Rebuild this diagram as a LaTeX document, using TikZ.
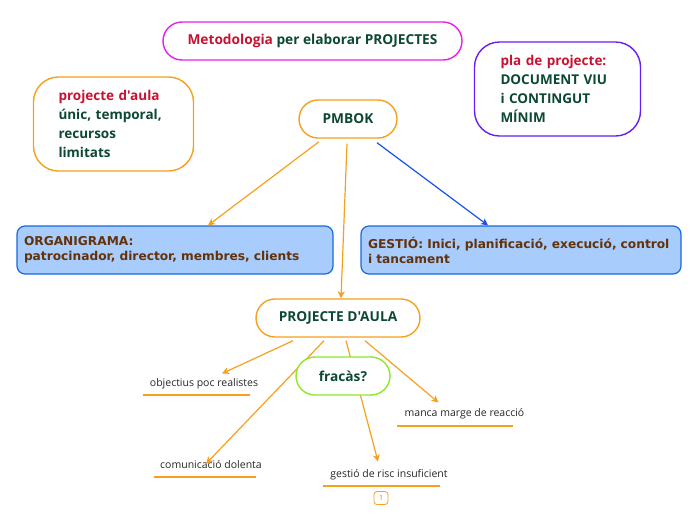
\documentclass[tikz,border=0pt]{standalone}
\usepackage{fontspec}
\setmainfont{Open Sans}[Ligatures=TeXOff]
\newfontfamily\dejabold{DejaVu Sans}[Ligatures=TeXOff]
\usetikzlibrary{arrows.meta}
\definecolor{corange}{RGB}{247,160,30}
\definecolor{cmagenta}{RGB}{232,30,232}
\definecolor{cpurple}{RGB}{104,30,240}
\definecolor{cgreen}{RGB}{140,232,40}
\definecolor{cblueb}{RGB}{24,104,222}
\definecolor{cbluef}{RGB}{168,204,252}
\definecolor{cbluea}{RGB}{24,80,240}
\definecolor{ccrimson}{RGB}{200,18,50}
\definecolor{cdkgreen}{RGB}{12,72,52}
\definecolor{cbrown}{RGB}{100,50,10}
\tikzset{
  pill/.style={draw=#1, line width=1.4pt, rounded corners=19pt, minimum height=38pt, fill=white,
    font=\fontsize{13.7}{15}\selectfont\bfseries, text=cdkgreen, inner xsep=0pt},
  bigbox/.style={draw=#1, line width=1.4pt, rounded corners=25pt, fill=white, align=left,
    font=\fontsize{13.5}{19}\selectfont\bfseries, text=cdkgreen, inner ysep=0pt},
  bluebox/.style={draw=cblueb, fill=cbluef, line width=1.2pt, rounded corners=8pt,
    minimum height=48pt, align=left, text=cbrown,
    font=\dejabold\fontsize{12.2}{15}\selectfont\bfseries, inner xsep=7pt},
  lbl/.style={font=\fontsize{10.5}{12}\selectfont, text=black!85, inner sep=0pt},
  uline/.style={draw=corange, line width=1.6pt},
  conn/.style={draw=#1, line width=1.2pt, -{Stealth[length=7pt,width=7pt,inset=2pt]}},
  conn/.default=corange
}
\begin{document}
\begin{tikzpicture}[x=1pt,y=-1pt]
\useasboundingbox (0,0) rectangle (696,520);
% nodes
\node[pill=cmagenta, minimum width=299pt] (title) at (312.5,41) {\textcolor{ccrimson}{Metodologia} per elaborar PROJECTES};
\node[bigbox=corange, minimum width=158pt, minimum height=94pt, text width=110pt, inner xsep=25pt] (pa) at (113.5,124)
  {\textcolor{ccrimson}{projecte d'aula}\\únic, temporal,\\recursos\\limitats};
\node[bigbox=cpurple, minimum width=166pt, minimum height=94pt, text width=114pt, inner xsep=26pt] (pla) at (557.5,89)
  {\textcolor{ccrimson}{pla de projecte:}\\DOCUMENT VIU\\i CONTINGUT\\MÍNIM};
\node[pill=corange, minimum width=98pt] (pmbok) at (348,119) {PMBOK};
\node[bluebox, minimum width=316pt, text width=302pt] (org) at (175,250)
  {ORGANIGRAMA:\\patrocinador, director, membres, clients};
\node[bluebox, minimum width=320pt, text width=306pt] (gest) at (521,250)
  {GESTIÓ: Inici, planificació, execució, control\\i tancament};
\node[pill=corange, minimum width=164pt] (proj) at (338,318) {PROJECTE D'AULA};
% labels
\node[lbl] (obj) at (204,384) {objectius poc realistes};
\node[lbl] (manca) at (464.5,414) {manca marge de reacció};
\node[lbl] (com) at (211,465) {comunicació dolenta};
\node[lbl] (risc) at (389,475) {gestió de risc insuficient};
\draw[uline] ([xshift=-61pt,yshift=-11pt]obj.center) -- ++(107,0);
\draw[uline] ([xshift=-67.5pt,yshift=-12pt]manca.center) -- ++(116,0);
\draw[uline] ([xshift=-57pt,yshift=-12pt]com.center) -- ++(102,0);
\draw[uline] ([xshift=-66pt,yshift=-11pt]risc.center) -- ++(117,0);
\node[draw=corange, line width=0.8pt, rounded corners=3pt, minimum width=14pt, minimum height=13pt,
  inner sep=0pt, font=\fontsize{7}{8}\selectfont, text=corange!80!black] (pg) at (381,498) {1};
% connectors
\draw[conn] ([xshift=-29pt,yshift=-3pt]pmbok.south) -- ([xshift=33pt]org.north);
\draw[conn] ([xshift=-1pt,yshift=-5pt]pmbok.south) -- ([xshift=3pt]proj.north);
\draw[conn=cbluea] ([xshift=29pt,yshift=-4pt]pmbok.south) -- ([xshift=-33pt]gest.north);
\draw[conn] ([xshift=-45pt,yshift=-3pt]proj.south) -- ([xshift=18pt,yshift=5pt]obj.north);
\draw[conn] ([xshift=-14pt,yshift=-3pt]proj.south) -- ([xshift=-5pt,yshift=-3pt]com.north);
\draw[conn] ([xshift=8pt,yshift=-3pt]proj.south) -- ([xshift=-11pt,yshift=8pt]risc.north);
\draw[conn] ([xshift=27pt,yshift=-3pt]proj.south) -- ([xshift=-26pt,yshift=6pt]manca.north);
% fracas on top
\node[pill=cgreen, minimum width=94pt] (fr) at (343,376) {fracàs?};
\end{tikzpicture}
\end{document}
